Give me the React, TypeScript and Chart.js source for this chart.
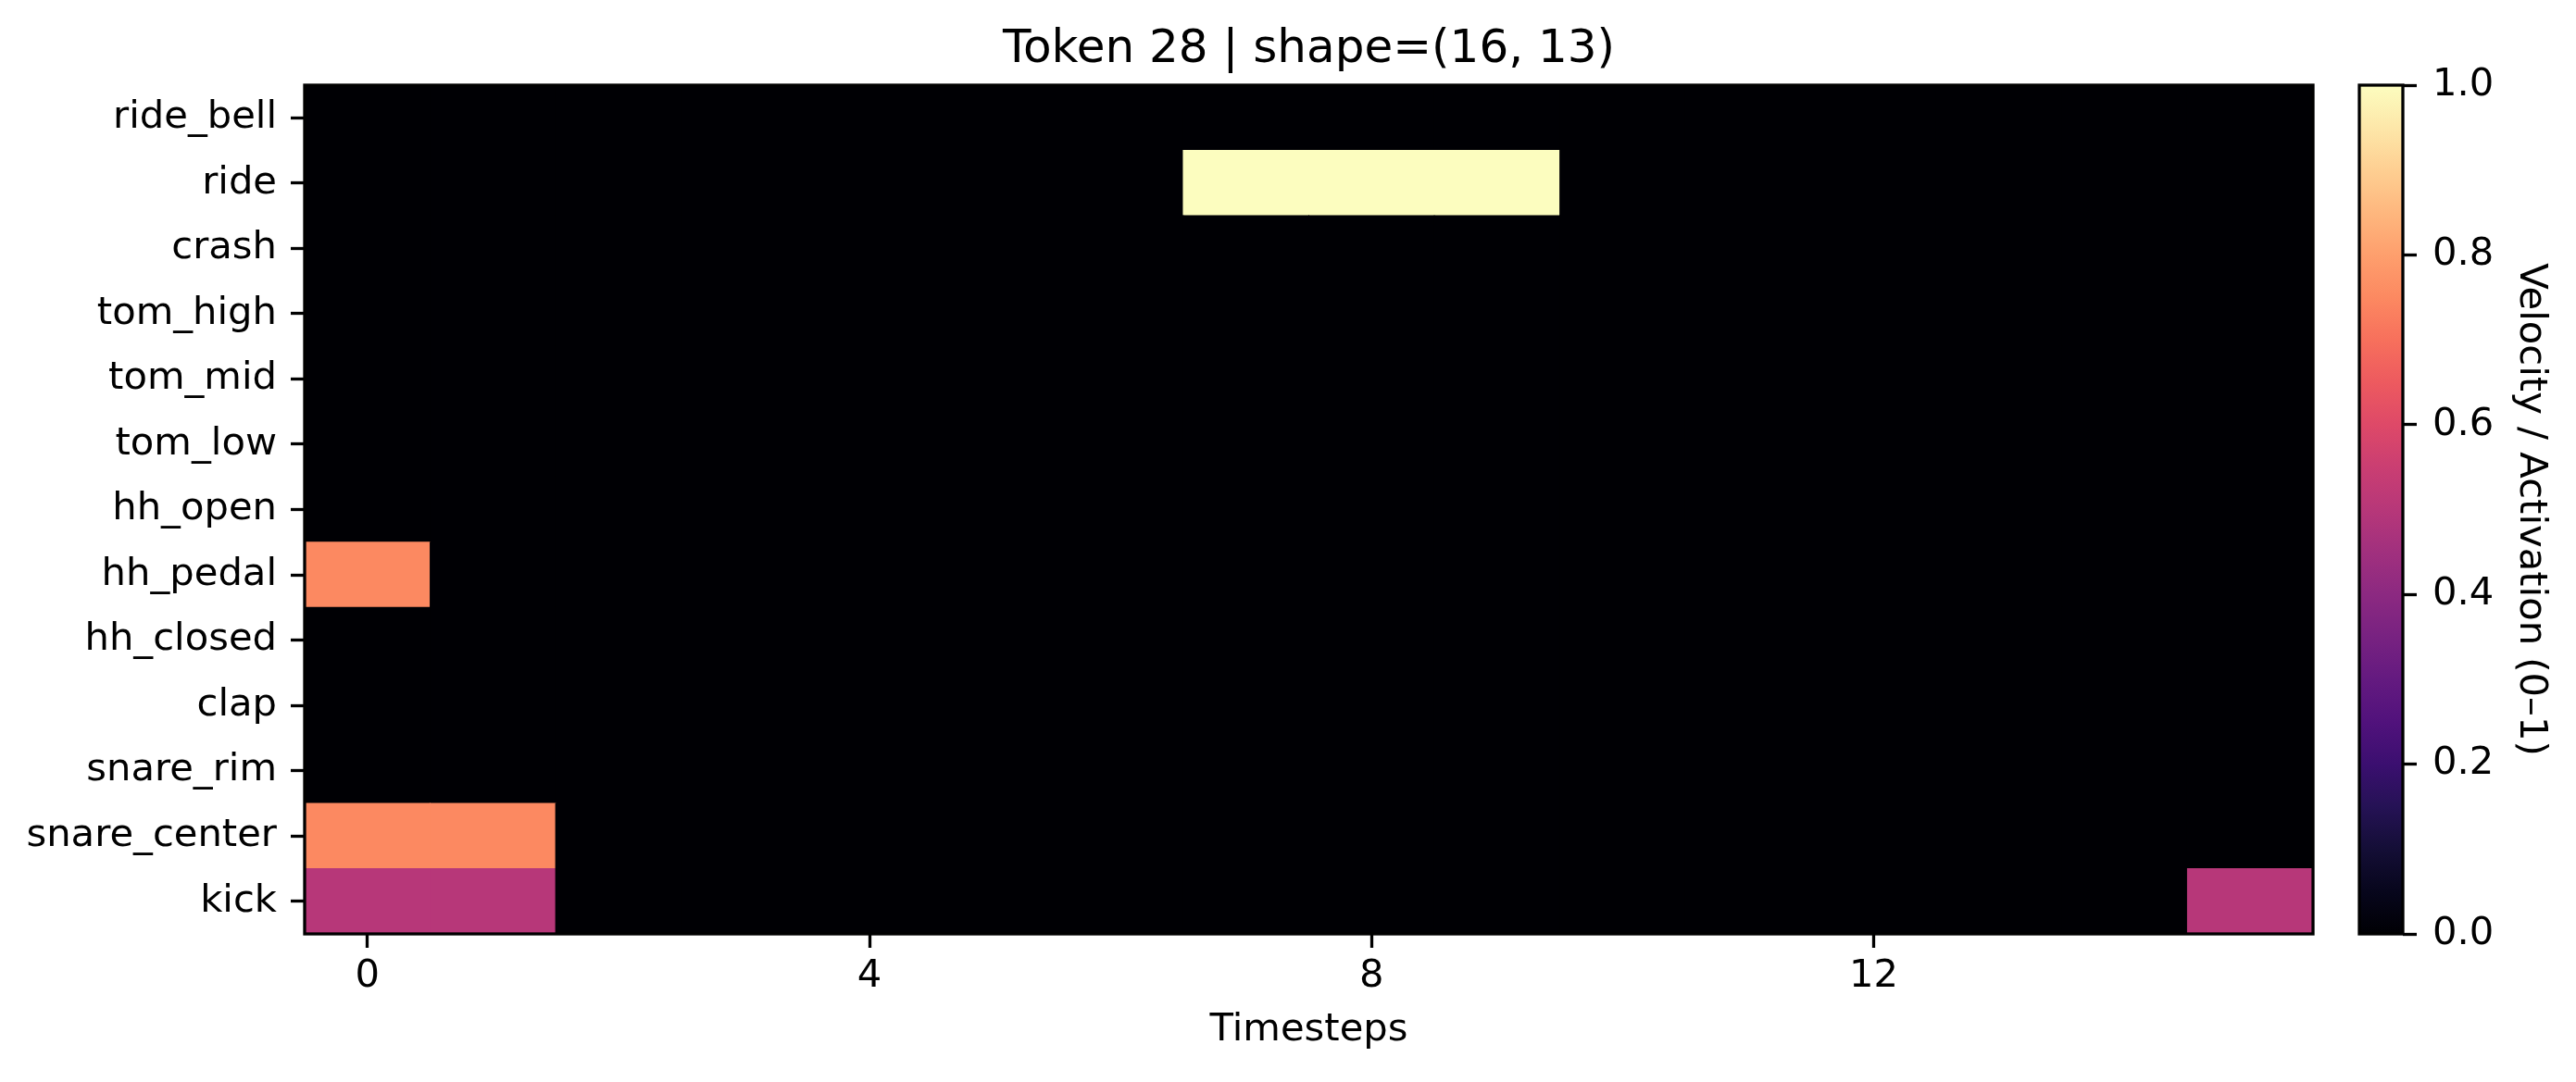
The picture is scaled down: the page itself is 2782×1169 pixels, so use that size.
import React, { useEffect, useRef } from 'react';
import { Chart, registerables } from 'chart.js';

Chart.register(...registerables);

const FONT = '"DejaVu Sans", "Liberation Sans", sans-serif';

const chartTitle = 'Token 28 | shape=(16, 13)';
const xAxisTitle = 'Timesteps';
const colorbarTitle = 'Velocity / Activation (0–1)';

const instruments = [
  'ride_bell', 'ride', 'crash', 'tom_high', 'tom_mid', 'tom_low', 'hh_open',
  'hh_pedal', 'hh_closed', 'clap', 'snare_rim', 'snare_center', 'kick',
];
const timesteps = [0, 1, 2, 3, 4, 5, 6, 7, 8, 9, 10, 11, 12, 13, 14, 15];
const xTickValues = [0, 4, 8, 12];
const colorbarTicks = [0, 0.2, 0.4, 0.6, 0.8, 1.0];

const rideBell    = [0, 0, 0, 0, 0, 0, 0, 0, 0, 0, 0, 0, 0, 0, 0, 0];
const ride        = [0, 0, 0, 0, 0, 0, 0, 1, 1, 1, 0, 0, 0, 0, 0, 0];
const crash       = [0, 0, 0, 0, 0, 0, 0, 0, 0, 0, 0, 0, 0, 0, 0, 0];
const tomHigh     = [0, 0, 0, 0, 0, 0, 0, 0, 0, 0, 0, 0, 0, 0, 0, 0];
const tomMid      = [0, 0, 0, 0, 0, 0, 0, 0, 0, 0, 0, 0, 0, 0, 0, 0];
const tomLow      = [0, 0, 0, 0, 0, 0, 0, 0, 0, 0, 0, 0, 0, 0, 0, 0];
const hhOpen      = [0, 0, 0, 0, 0, 0, 0, 0, 0, 0, 0, 0, 0, 0, 0, 0];
const hhPedal     = [0.75, 0, 0, 0, 0, 0, 0, 0, 0, 0, 0, 0, 0, 0, 0, 0];
const hhClosed    = [0, 0, 0, 0, 0, 0, 0, 0, 0, 0, 0, 0, 0, 0, 0, 0];
const clap        = [0, 0, 0, 0, 0, 0, 0, 0, 0, 0, 0, 0, 0, 0, 0, 0];
const snareRim    = [0, 0, 0, 0, 0, 0, 0, 0, 0, 0, 0, 0, 0, 0, 0, 0];
const snareCenter = [0.75, 0.75, 0, 0, 0, 0, 0, 0, 0, 0, 0, 0, 0, 0, 0, 0];
const kick        = [0.5, 0.5, 0, 0, 0, 0, 0, 0, 0, 0, 0, 0, 0, 0, 0, 0.5];

const velocityRows = [
  rideBell, ride, crash, tomHigh, tomMid, tomLow, hhOpen,
  hhPedal, hhClosed, clap, snareRim, snareCenter, kick,
];

// magma colormap stops (0, 0.05, ..., 1)
const magmaStops = [
  '#000004', '#07061c', '#140e36', '#251255', '#3b0f70', '#51127c', '#641a80',
  '#782281', '#8c2981', '#a1307e', '#b73779', '#ca3e72', '#de4968', '#ed5a5f',
  '#f7705c', '#fc8961', '#fe9f6d', '#feb77e', '#fecf92', '#fde7a9', '#fcfdbf',
];

function hexToRgb(h: string) {
  return [parseInt(h.slice(1, 3), 16), parseInt(h.slice(3, 5), 16), parseInt(h.slice(5, 7), 16)];
}

function magma(v: number) {
  const t = Math.max(0, Math.min(1, v)) * (magmaStops.length - 1);
  const i = Math.min(Math.floor(t), magmaStops.length - 2);
  const f = t - i;
  const a = hexToRgb(magmaStops[i]);
  const b = hexToRgb(magmaStops[i + 1]);
  const c = a.map((x, k) => Math.round(x + (b[k] - x) * f));
  return `rgb(${c[0]},${c[1]},${c[2]})`;
}

const framePlugin = {
  id: 'frame',
  beforeDatasetsDraw(chart: any, _args: any, opts: any) {
    if (opts && opts.fill) {
      const { ctx, chartArea: a } = chart;
      ctx.save();
      ctx.fillStyle = opts.fill;
      ctx.fillRect(a.left, a.top, a.right - a.left, a.bottom - a.top);
      ctx.restore();
    }
  },
  afterDatasetsDraw(chart: any) {
    const { ctx, chartArea: a } = chart;
    ctx.save();
    ctx.strokeStyle = '#000';
    ctx.lineWidth = 3.3;
    ctx.strokeRect(a.left, a.top, a.right - a.left, a.bottom - a.top);
    ctx.restore();
  },
};

const tickGrid = {
  drawOnChartArea: false,
  drawTicks: true,
  offset: false,
  tickLength: 15,
  tickWidth: 3.3,
  tickColor: '#000',
};

export default function App() {
  const mainRef = useRef<HTMLCanvasElement>(null);
  const cbRef = useRef<HTMLCanvasElement>(null);

  useEffect(() => {
    Chart.defaults.font.family = FONT;
    Chart.defaults.color = '#000';

    const cells: any[] = [];
    const colors: string[] = [];
    instruments.forEach((_name, r) => {
      velocityRows[r].forEach((v, t) => {
        cells.push({ x: timesteps[t], y: [r - 0.5, r + 0.5] });
        colors.push(magma(v));
      });
    });

    const main = new Chart(mainRef.current!, {
      type: 'bar',
      data: {
        datasets: [
          {
            data: cells,
            backgroundColor: colors,
            borderWidth: 0,
            barPercentage: 1,
            categoryPercentage: 1,
            inflateAmount: 0.5,
          } as any,
        ],
      },
      options: {
        responsive: false,
        animation: false,
        devicePixelRatio: 1,
        layout: { padding: { left: 0, right: 284, top: 0, bottom: 0 } },
        plugins: {
          legend: { display: false },
          tooltip: { enabled: false },
          title: {
            display: true,
            fullSize: false,
            text: chartTitle,
            color: '#000',
            font: { size: 50, weight: 'normal', family: FONT },
            padding: { top: 24, bottom: 8 },
          },
          frame: { fill: magma(0) },
        } as any,
        scales: {
          x: {
            type: 'linear',
            min: -0.5,
            max: 15.5,
            offset: false,
            grid: tickGrid,
            border: { display: false },
            ticks: {
              color: '#000',
              font: { size: 41.7, family: FONT },
              padding: 6,
              maxRotation: 0,
              autoSkip: false,
            },
            afterBuildTicks: (s: any) => {
              s.ticks = xTickValues.map((v) => ({ value: v }));
            },
            afterFit: (s: any) => {
              s.height = 160;
            },
            title: {
              display: true,
              text: xAxisTitle,
              color: '#000',
              font: { size: 41.7, family: FONT },
              padding: { top: 0, bottom: 31 },
            },
          } as any,
          y: {
            type: 'linear',
            reverse: true,
            min: -0.5,
            max: 12.5,
            grid: tickGrid,
            border: { display: false },
            ticks: {
              color: '#000',
              font: { size: 41.7, family: FONT },
              padding: 15,
              autoSkip: false,
              callback: (v: any) => instruments[Math.round(Number(v))] ?? '',
            },
            afterBuildTicks: (s: any) => {
              s.ticks = instruments.map((_n, i) => ({ value: i }));
            },
            afterFit: (s: any) => {
              s.width = 329;
            },
          } as any,
        },
      },
      plugins: [framePlugin],
    });

    const cb = new Chart(cbRef.current!, {
      type: 'bar',
      data: {
        labels: [''],
        datasets: [
          {
            data: [[0, 1]],
            borderWidth: 0,
            barPercentage: 1,
            categoryPercentage: 1,
            inflateAmount: 0,
            backgroundColor: (ctx: any) => {
              const chart = ctx.chart;
              if (!chart.chartArea) return magma(0.5);
              const ys = chart.scales.y;
              const g = chart.ctx.createLinearGradient(0, ys.getPixelForValue(0), 0, ys.getPixelForValue(1));
              magmaStops.forEach((c, i) => g.addColorStop(i / (magmaStops.length - 1), c));
              return g;
            },
          } as any,
        ],
      },
      options: {
        responsive: false,
        animation: false,
        devicePixelRatio: 1,
        layout: { padding: { left: 48, right: 0, top: 92, bottom: 160 } },
        plugins: {
          legend: { display: false },
          tooltip: { enabled: false },
        },
        scales: {
          x: { display: false },
          y: {
            type: 'linear',
            position: 'right',
            min: 0,
            max: 1,
            grid: tickGrid,
            border: { display: false },
            ticks: {
              color: '#000',
              font: { size: 41.7, family: FONT },
              padding: 17,
              callback: (v: any) => Number(v).toFixed(1),
            },
            afterBuildTicks: (s: any) => {
              s.ticks = colorbarTicks.map((v) => ({ value: v }));
            },
            afterFit: (s: any) => {
              s.width = 187;
            },
            title: {
              display: true,
              text: colorbarTitle,
              color: '#000',
              font: { size: 41.7, family: FONT },
              padding: { top: 24, bottom: 0 },
            },
          } as any,
        },
      },
      plugins: [framePlugin],
    });

    return () => {
      main.destroy();
      cb.destroy();
    };
  }, []);

  return (
    <div style={{ position: 'fixed', left: 0, top: 0, width: 2782, height: 1169, background: '#fff' }}>
      <canvas ref={mainRef} width={2782} height={1169} style={{ position: 'absolute', left: 0, top: 0 }} />
      <canvas ref={cbRef} width={282} height={1169} style={{ position: 'absolute', left: 2500, top: 0 }} />
    </div>
  );
}
